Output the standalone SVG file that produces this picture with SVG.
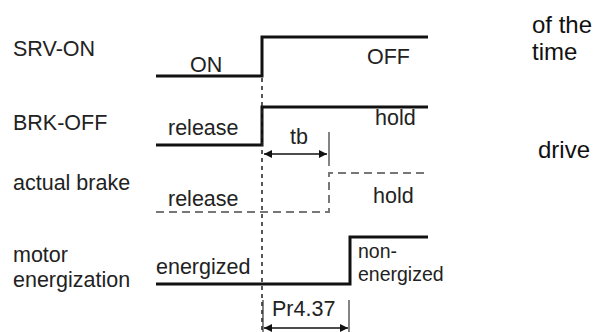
<svg xmlns="http://www.w3.org/2000/svg" width="601" height="332" viewBox="0 0 601 332">
<style>
text{font-family:"Liberation Sans",Arial,sans-serif;font-size:21.5px;fill:#222}
.side{font-size:24px;fill:#111}
.sm{font-size:19.5px}
.sig{fill:none;stroke:#111;stroke-width:3}
.dsig{fill:none;stroke:#777;stroke-width:2;stroke-dasharray:8,5}
.guide{fill:none;stroke:#222;stroke-width:1.5;stroke-dasharray:4,4}
.dim{fill:none;stroke:#111;stroke-width:1.5}
.tick{fill:none;stroke:#333;stroke-width:1.2}
</style>
<defs>
<marker id="ah" viewBox="0 0 10 10" refX="10" refY="5" markerWidth="10" markerHeight="8" orient="auto-start-reverse" markerUnits="userSpaceOnUse"><path d="M0,0 L10,5 L0,10 Z" fill="#111"/></marker>
</defs>
<g id="labels">
<text x="13" y="56">SRV-ON</text>
<text x="13" y="130">BRK-OFF</text>
<text x="13" y="190">actual brake</text>
<text x="13" y="262">motor</text>
<text x="13" y="287">energization</text>
</g>
<g id="side">
<text class="side" x="532" y="33">of the</text>
<text class="side" x="532" y="60">time</text>
<text class="side" x="538" y="158">drive</text>
</g>
<g id="connectors">
<polyline class="sig" points="156,76 262,76 262,37 428,37"/>
<polyline class="sig" points="156,145 262,145 262,107 428,107"/>
<polyline class="dsig" points="156,212 329,212 329,173 428,173"/>
<polyline class="sig" points="156,284 350,284 350,237 428,237"/>
<line class="guide" x1="262" y1="78" x2="262" y2="332"/>
<line class="tick" x1="329" y1="132" x2="329" y2="166"/>
<line class="dim" x1="264" y1="154" x2="327" y2="154" marker-start="url(#ah)" marker-end="url(#ah)"/>
<line class="tick" x1="263" y1="300" x2="263" y2="332"/>
<line class="tick" x1="349" y1="300" x2="349" y2="332"/>
<line class="dim" x1="264" y1="328" x2="348" y2="328" marker-start="url(#ah)" marker-end="url(#ah)"/>
</g>
<g id="values">
<text x="190" y="72">ON</text>
<text x="367" y="64">OFF</text>
<text x="168" y="135">release</text>
<text x="375" y="125">hold</text>
<text x="290" y="144">tb</text>
<text x="168" y="206">release</text>
<text x="373" y="203">hold</text>
<text x="156" y="274">energized</text>
<text class="sm" x="358" y="258">non-</text>
<text class="sm" x="358" y="281">energized</text>
<text x="272" y="316">Pr4.37</text>
</g>
</svg>
